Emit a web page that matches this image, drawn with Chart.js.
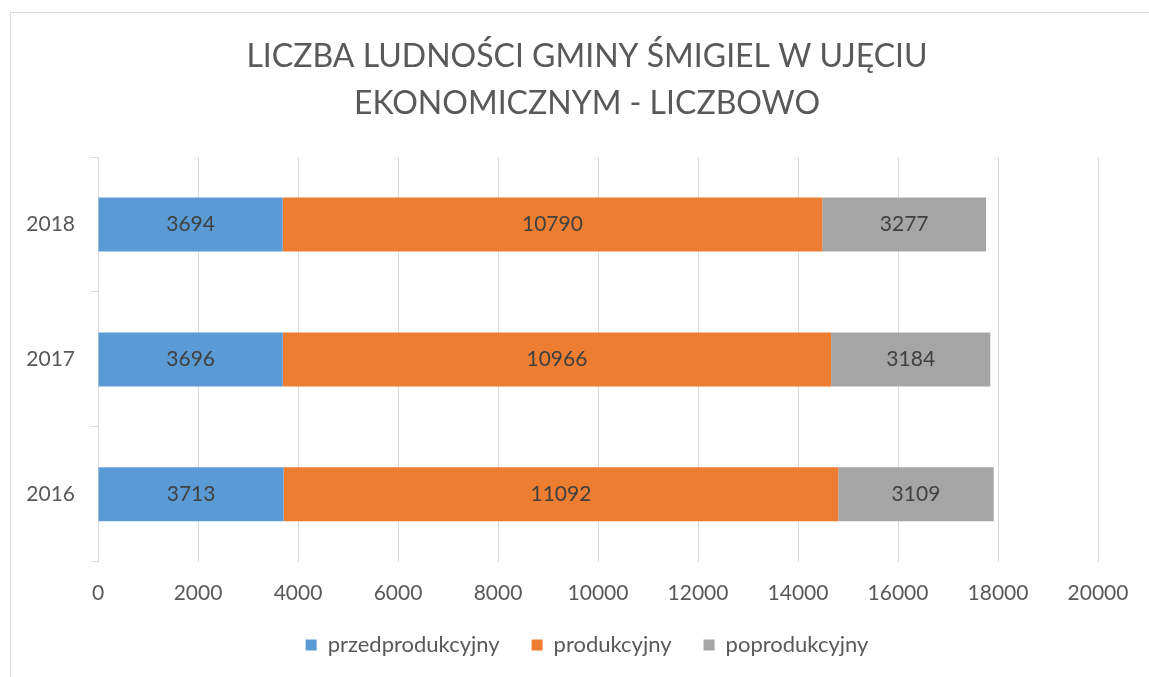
<!DOCTYPE html>
<html>
<head>
<meta charset="utf-8">
<script src="https://cdn.jsdelivr.net/npm/chart.js@4"></script>
<style>
  html, body { margin: 0; padding: 0; background: #fff; overflow: hidden; }
  #frame { position: absolute; left: 10px; top: 12px; width: 1200px; height: 700px; border: 1px solid #d9d9d9; }
  #wrap { position: absolute; left: 0; top: 0; width: 1149px; height: 677px; }
</style>
</head>
<body>
<div id="frame"></div>
<div id="wrap"><canvas id="chart" width="1149" height="677"></canvas></div>
<script>
const years = ['2018', '2017', '2016'];
const przedprodukcyjny = [3694, 3696, 3713];
const produkcyjny = [10790, 10966, 11092];
const poprodukcyjny = [3277, 3184, 3109];
const seriesNames = ['przedprodukcyjny', 'produkcyjny', 'poprodukcyjny'];
const xTicks = [0, 2000, 4000, 6000, 8000, 10000, 12000, 14000, 16000, 18000, 20000];

const FONT = 'Lato, "Open Sans", sans-serif';

// widest year label, so the mirrored y labels can be pushed back left of the axis
const measure = document.createElement('canvas').getContext('2d');
measure.font = '21px ' + FONT;
const yLabelWidth = Math.max(...years.map(y => measure.measureText(y).width));

// draws the value in the middle of every bar segment
const barLabels = {
  id: 'barLabels',
  afterDatasetsDraw(chart) {
    const ctx = chart.ctx;
    ctx.save();
    ctx.font = '21px ' + FONT;
    ctx.fillStyle = '#404040';
    ctx.textAlign = 'center';
    ctx.textBaseline = 'middle';
    chart.data.datasets.forEach((ds, i) => {
      chart.getDatasetMeta(i).data.forEach((bar, j) => {
        ctx.fillText(ds.data[j], (bar.x + bar.base) / 2, bar.y);
      });
    });
    ctx.restore();
  }
};

new Chart(document.getElementById('chart'), {
  type: 'bar',
  data: {
    labels: years,
    datasets: [
      { label: seriesNames[0], data: przedprodukcyjny, backgroundColor: '#5b9bd5' },
      { label: seriesNames[1], data: produkcyjny, backgroundColor: '#ed7d31' },
      { label: seriesNames[2], data: poprodukcyjny, backgroundColor: '#a5a5a5' }
    ]
  },
  options: {
    indexAxis: 'y',
    responsive: false,
    animation: false,
    categoryPercentage: 0.4,
    barPercentage: 1,
    layout: { padding: { top: 33, left: 76, right: 51, bottom: 11 } },
    scales: {
      x: {
        stacked: true,
        min: 0,
        max: 20000,
        afterBuildTicks: axis => { axis.ticks = xTicks.map(v => ({ value: v })); },
        afterFit: axis => { axis.height -= 23; },
        grid: { color: '#d9d9d9', lineWidth: 1, drawTicks: false },
        border: { display: false },
        ticks: {
          color: '#595959', font: { family: FONT, size: 21 }, padding: 19,
          callback: v => String(v)
        }
      },
      y: {
        stacked: true,
        afterFit: axis => { axis.width = 22; },
        grid: { offset: true, drawOnChartArea: false, drawTicks: true, tickLength: 7, color: '#d9d9d9' },
        border: { display: true, color: '#d9d9d9' },
        ticks: {
          color: '#595959', font: { family: FONT, size: 21 },
          mirror: true, crossAlign: 'far', padding: -23 - yLabelWidth
        }
      }
    },
    plugins: {
      title: {
        display: true,
        text: ['LICZBA LUDNOŚCI GMINY ŚMIGIEL W UJĘCIU', 'EKONOMICZNYM - LICZBOWO'],
        color: '#595959',
        font: { family: FONT, size: 32, weight: 'normal', lineHeight: 1.47 },
        padding: { top: 0, bottom: 30 }
      },
      legend: {
        position: 'bottom',
        labels: {
          boxWidth: 11,
          boxHeight: 11,
          padding: 32,
          color: '#595959',
          font: { family: FONT, size: 22 }
        }
      },
      tooltip: { enabled: false }
    }
  },
  plugins: [barLabels]
});
</script>
</body>
</html>
